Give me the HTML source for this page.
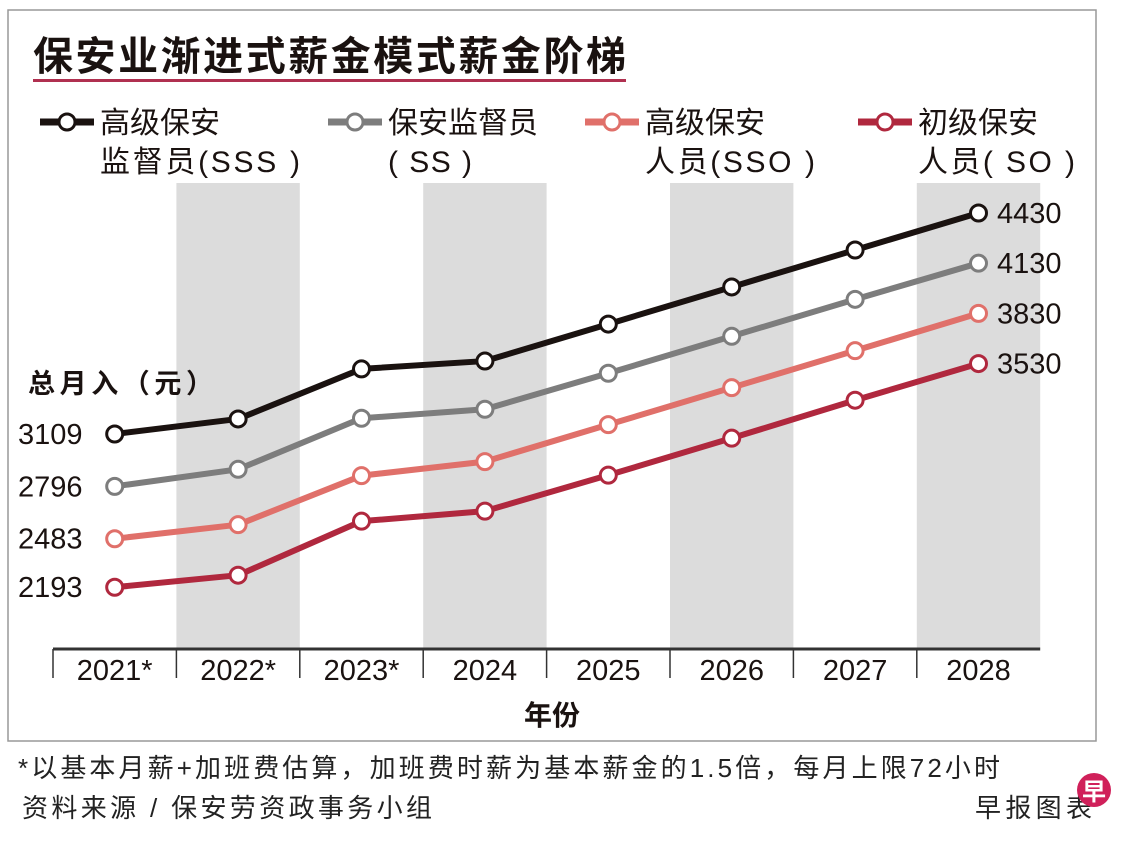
<!DOCTYPE html>
<html><head><meta charset="utf-8"><style>
body{margin:0;background:#fff;width:1140px;height:838px;overflow:hidden;font-family:"Liberation Sans","Noto Sans CJK SC",sans-serif}
svg text{font-family:"Liberation Sans","Noto Sans CJK SC",sans-serif}
</style></head><body>
<svg width="1140" height="838">
<rect x="8" y="10" width="1088" height="731" fill="#fff" stroke="#999" stroke-width="1.5"/>
<text x="33" y="70" font-size="40" font-weight="bold" fill="#1a1210" textLength="593">保安业渐进式薪金模式薪金阶梯</text>
<rect x="33" y="79" width="593" height="3" fill="#b03050"/>
<g id="bands"></g>
<g id="legend"></g>
<text x="28" y="393" font-size="27" font-weight="bold" fill="#1a1210" textLength="185">总月入（元）</text>
<g id="axis"></g>
<g id="series"></g>
<text x="552" y="725" font-size="28" font-weight="bold" text-anchor="middle" fill="#1a1210">年份</text>
<text x="18" y="777" font-size="26" fill="#222" textLength="982">*以基本月薪+加班费估算，加班费时薪为基本薪金的1.5倍，每月上限72小时</text>
<text x="22" y="817" font-size="26" fill="#222" textLength="410">资料来源 / 保安劳资政事务小组</text>
<text x="975" y="817" font-size="26" fill="#222" textLength="117">早报图表</text>
<circle cx="1094" cy="790" r="17" fill="#d0205a"/>
<text x="1094" y="800" font-size="24" fill="#fff" text-anchor="middle" font-weight="bold">早</text>
</svg>
<script>
const years=["2021*","2022*","2023*","2024","2025","2026","2027","2028"];
const sss=[3109,3199,3498,3545,3766,3988,4209,4430];
const ss=[2796,2898,3203,3257,3472,3693,3914,4130];
const sso=[2483,2567,2860,2944,3165,3386,3607,3830];
const so=[2193,2265,2588,2648,2863,3084,3311,3530];
const seriesNames=["sss","ss","sso","so"];
const legendLabels=[["高级保安","监督员(SSS )"],["保安监督员","( SS )"],["高级保安","人员(SSO )"],["初级保安","人员( SO )"]];
const colors=["#1a1210","#7d7d7d","#e0706a","#b0283e"];
const NS="http://www.w3.org/2000/svg";
const x0=53,bw=123.4;
function xs(i){return x0+bw*(i+0.5);}
function ys(v){return 434-(v-3109)*0.1673;}
function mk(tag,attrs,parent){const e=document.createElementNS(NS,tag);for(const k in attrs)e.setAttribute(k,attrs[k]);parent.appendChild(e);return e;}
const bands=document.getElementById('bands'),axis=document.getElementById('axis'),ser=document.getElementById('series'),leg=document.getElementById('legend');
years.forEach((y,i)=>{
  if(i%2===1){const r=mk('rect',{x:x0+bw*i,y:183,width:bw,height:466,fill:'#dcdcdc'},bands);
  
  }
  const t=mk('line',{x1:x0+bw*i,y1:649,x2:x0+bw*i,y2:678,stroke:'#333','stroke-width':1.5},axis);
  
  
  const l=mk('text',{x:xs(i),y:680,'font-size':29,'text-anchor':'middle',fill:'#1a1210'},axis);l.textContent=y;
  
  
});
const ax=mk('line',{x1:x0,y1:649,x2:x0+bw*8,y2:649,stroke:'#333','stroke-width':3},axis);


[sss,ss,sso,so].forEach((d,s)=>{
  const g=mk('g',{},ser);
  
  
  const p=mk('polyline',{points:d.map((v,i)=>xs(i)+','+ys(v)).join(' '),fill:'none',stroke:colors[s],'stroke-width':6,'stroke-linejoin':'round'},g);
  
  
  d.forEach((v,i)=>{const c=mk('circle',{cx:xs(i),cy:ys(v),r:8,fill:'#fff',stroke:colors[s],'stroke-width':3},g);
    
    });
  const a=mk('text',{x:18,y:ys(d[0])+10,'font-size':29,fill:'#1a1210'},g);a.textContent=d[0];
  
  
  const b=mk('text',{x:997,y:ys(d[7])+10,'font-size':29,fill:'#1a1210'},g);b.textContent=d[7];
  
  
});
const lx=[40,328,585,858];
const l2w=[200,84,170,157];
legendLabels.forEach((lab,s)=>{
  const g=mk('g',{},leg);
  
  
  mk('line',{x1:lx[s],y1:122,x2:lx[s]+54,y2:122,stroke:colors[s],'stroke-width':7},g);
  mk('circle',{cx:lx[s]+27,cy:122,r:8,fill:'#fff',stroke:colors[s],'stroke-width':3},g);
  const t1=mk('text',{x:lx[s]+60,y:133,'font-size':30,fill:'#1a1210'},g);t1.textContent=lab[0];
  const t2=mk('text',{x:lx[s]+60,y:172,'font-size':30,fill:'#1a1210',textLength:l2w[s]},g);t2.textContent=lab[1];
});
</script>
</body></html>
